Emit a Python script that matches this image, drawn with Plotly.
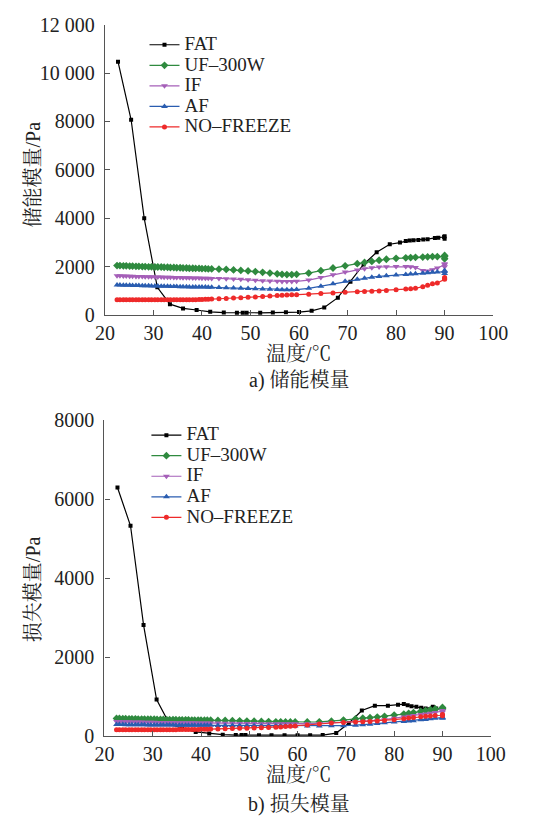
import plotly.graph_objects as go

# ---------------- data ----------------
FAT_T = [22.7, 25.4, 28.1, 30.8, 33.4, 36.1, 38.9, 41.7, 44.5, 47.2, 48.4, 49.2, 52.0, 54.6,
         57.3, 60.0, 62.6, 65.2, 68.0, 70.6, 73.3, 76.0, 78.7, 80.8, 82.0, 82.8, 83.6, 84.6,
         85.6, 86.5, 88.0, 88.7, 89.9, 90.0, 90.0]

T = [22.5, 23.1, 23.8, 24.4, 25.1, 25.7, 26.4, 27.0, 27.7, 28.3, 29.0, 29.6, 30.3, 30.9, 31.6,
     32.2, 32.9, 33.5, 34.2, 34.8, 35.5, 36.1, 36.8, 37.4, 38.1, 38.7, 39.4, 40.0, 40.7, 41.3,
     42.0, 43.5, 45.0, 46.5, 48.0, 49.5, 51.0, 52.5, 54.0, 55.5, 56.5, 57.5, 58.5, 59.5, 62.0,
     64.5, 67.0, 69.5, 72.0, 73.5, 75.0, 76.5, 78.0, 80.0, 82.0, 83.0, 84.0, 85.5, 86.5, 87.5,
     88.5, 90.0, 90.0, 90.0]

# storage modulus G' (Pa)
G1_FAT = [10470, 8070, 4000, 1150, 455, 280, 215, 140, 110, 100, 100, 100, 100, 110, 120, 130,
          180, 320, 725, 1380, 2095, 2600, 2930, 3000, 3060, 3090, 3100, 3110, 3130, 3140, 3190,
          3200, 3230, 3260, 3160]
G1_UF = [2050, 2050, 2040, 2040, 2030, 2030, 2020, 2020, 2010, 2010, 2000, 2000, 1990, 1990, 1990,
         1980, 1980, 1970, 1970, 1960, 1960, 1950, 1950, 1940, 1940, 1930, 1930, 1920, 1920, 1910,
         1910, 1900, 1890, 1870, 1850, 1830, 1800, 1770, 1740, 1710, 1690, 1680, 1680, 1690, 1740,
         1840, 1950, 2040, 2130, 2180, 2220, 2270, 2310, 2350, 2370, 2380, 2390, 2400, 2410, 2420,
         2420, 2420, 2330, 2470]
G1_IF = [1630, 1630, 1620, 1620, 1610, 1610, 1600, 1600, 1600, 1590, 1590, 1590, 1580, 1580, 1580,
         1570, 1570, 1570, 1560, 1560, 1560, 1550, 1550, 1550, 1540, 1540, 1540, 1530, 1530, 1530,
         1520, 1520, 1510, 1500, 1480, 1460, 1440, 1420, 1410, 1400, 1390, 1390, 1390, 1400, 1450,
         1560, 1670, 1780, 1870, 1920, 1960, 1990, 2000, 2010, 2010, 2000, 1970, 1850, 1830, 1880,
         1950, 2080, 2130, 2000]
G1_AF = [1250, 1250, 1240, 1240, 1240, 1230, 1230, 1230, 1220, 1220, 1220, 1210, 1210, 1210, 1200,
         1200, 1200, 1190, 1190, 1190, 1180, 1180, 1180, 1170, 1170, 1170, 1160, 1160, 1160, 1150,
         1150, 1140, 1130, 1120, 1110, 1100, 1090, 1080, 1070, 1060, 1050, 1050, 1050, 1060, 1110,
         1200, 1300, 1400, 1480, 1530, 1570, 1600, 1630, 1660, 1680, 1700, 1710, 1730, 1750, 1770,
         1780, 1800, 1720, 1850]
G1_NF = [640, 640, 640, 640, 640, 640, 640, 640, 640, 640, 640, 640, 640, 640, 640,
         640, 640, 640, 640, 640, 640, 640, 640, 640, 640, 640, 645, 650, 655, 660,
         665, 680, 695, 710, 725, 740, 755, 770, 790, 810, 820, 830, 840, 850, 870,
         895, 920, 950, 970, 980, 990, 1000, 1020, 1050, 1080, 1090, 1110, 1180, 1240, 1300,
         1330, 1480, 1560, 1530]

# loss modulus G'' (Pa)
G2_FAT = [6300, 5330, 2820, 930, 330, 190, 110, 70, 40, 30, 30, 30, 25, 25, 25, 25,
          25, 30, 80, 330, 650, 775, 775, 800, 815, 785, 760, 745, 720, 700, 745,
          700, 690, 680, 700]
G2_UF = [450, 450, 445, 445, 440, 440, 440, 435, 435, 435, 430, 430, 430, 425, 425,
         425, 420, 420, 420, 420, 415, 415, 415, 415, 410, 410, 410, 410, 405, 405,
         405, 400, 400, 395, 390, 385, 380, 375, 370, 365, 365, 360, 360, 360, 360,
         365, 380, 410, 440, 455, 470, 485, 505, 535, 560, 580, 600, 630, 650, 670,
         690, 710, 730, 690]
G2_IF = [370, 370, 368, 366, 364, 362, 360, 360, 358, 356, 355, 354, 352, 350, 350,
         348, 347, 346, 345, 344, 343, 342, 341, 340, 340, 339, 338, 337, 336, 335,
         335, 333, 330, 328, 325, 323, 320, 318, 316, 315, 314, 313, 313, 314, 318,
         325, 335, 350, 362, 370, 380, 395, 420, 455, 485, 505, 525, 550, 565, 585,
         600, 630, 650, 610]
G2_AF = [295, 295, 294, 293, 292, 291, 290, 290, 289, 288, 287, 287, 286, 285, 285,
         284, 283, 283, 282, 281, 281, 280, 280, 279, 279, 278, 278, 277, 277, 276,
         275, 274, 272, 270, 268, 266, 264, 262, 260, 259, 258, 258, 258, 258, 260,
         262, 265, 268, 280, 290, 305, 320, 340, 360, 375, 385, 395, 415, 425, 440,
         455, 470, 480, 455]
G2_NF = [165, 165, 165, 165, 165, 165, 165, 165, 165, 165, 165, 165, 165, 166, 166,
         166, 166, 167, 167, 167, 168, 168, 168, 169, 170, 171, 172, 174, 176, 178,
         180, 185, 190, 195, 200, 205, 210, 215, 220, 228, 235, 245, 255, 262, 285,
         310, 335, 350, 360, 365, 372, 385, 400, 420, 445, 460, 475, 495, 505, 515,
         525, 535, 550, 520]

NAMES = ["FAT", "UF\u2013300W", "IF", "AF", "NO\u2013FREEZE"]
X_TICKS = [20, 30, 40, 50, 60, 70, 80, 90, 100]
Y1_TICKS = [0, 2000, 4000, 6000, 8000, 10000, 12000]
Y1_TEXT = ["0", "2000", "4000", "6000", "8000", "10 000", "12 000"]
Y2_TICKS = [0, 2000, 4000, 6000, 8000]
Y2_TEXT = ["0", "2000", "4000", "6000", "8000"]

# ---------------- styles ----------------
COLORS = ["#000000", "#2f8a3f", "#a55fb8", "#2a5db0", "#ee2a2a"]
SYMBOLS = ["square", "diamond", "triangle-down", "triangle-up", "circle"]
SIZES = [4, 6, 6, 6, 5]
W, H = 542, 829
SERIF = "Liberation Serif, Times New Roman, serif"
CJK = "Liberation Serif, Noto Serif CJK SC, Noto Sans CJK SC, serif"
AX = "#555"


def legend_name(n):
    return '<span style="font-size:19px">' + n + '</span>'


fig = go.Figure()

top = [(FAT_T, G1_FAT), (T, G1_UF), (T, G1_IF), (T, G1_AF), (T, G1_NF)]
bot = [(FAT_T, G2_FAT), (T, G2_UF), (T, G2_IF), (T, G2_AF), (T, G2_NF)]

for panel, (data, xa, ya, lg) in enumerate([(top, "x", "y", "legend"), (bot, "x2", "y2", "legend2")]):
    for i, (xs, ys) in enumerate(data):
        fig.add_trace(go.Scatter(
            x=xs, y=ys, name=legend_name(NAMES[i]), mode="lines+markers",
            line=dict(color=COLORS[i], width=1.2),
            marker=dict(symbol=SYMBOLS[i], size=SIZES[i], color=COLORS[i]),
            xaxis=xa, yaxis=ya, legend=lg))


def py(p):
    return 1 - p / H


def px(p):
    return p / W


axis_common = dict(showline=True, linecolor=AX, linewidth=1.3, ticks="inside",
                   ticklen=5, tickcolor=AX, tickwidth=1.3, showgrid=False,
                   zeroline=False, tickfont=dict(family=SERIF, size=20, color="#222"))

fig.update_layout(
    width=W, height=H, margin=dict(l=0, r=0, t=0, b=0),
    paper_bgcolor="white", plot_bgcolor="white",
    font=dict(family=SERIF, color="#222"),
    xaxis=dict(domain=[px(99.5), px(506.5)], range=[20, 100], tickvals=X_TICKS, anchor="y",
               **axis_common),
    yaxis=dict(domain=[py(312.5), py(14)], range=[0, 12000], tickvals=Y1_TICKS,
               ticktext=Y1_TEXT, anchor="x", ticklabelstandoff=5, **axis_common),
    xaxis2=dict(domain=[px(99), px(504)], range=[20, 100], tickvals=X_TICKS, anchor="y2",
                **axis_common),
    yaxis2=dict(domain=[py(745), py(420.5)], range=[0, 8000], tickvals=Y2_TICKS,
                ticktext=Y2_TEXT, anchor="x2", ticklabelstandoff=5, **axis_common),
    legend=dict(x=px(141), y=py(19), xanchor="left", yanchor="top",
                bgcolor="rgba(0,0,0,0)", font=dict(family=SERIF, size=13.5, color="#222")),
    legend2=dict(x=px(143), y=py(420), xanchor="left", yanchor="top",
                 bgcolor="rgba(0,0,0,0)", font=dict(family=SERIF, size=13.5, color="#222")),
    showlegend=True,
)

cx = (100 + 506) / 2 / W
ann = [
    dict(text="温度/℃", x=cx, y=py(352)),
    dict(text="a) 储能模量", x=cx, y=py(380)),
    dict(text="储能模量/Pa", x=px(24), y=py(168), textangle=-90),
    dict(text="温度/℃", x=cx, y=py(785)),
    dict(text="b) 损失模量", x=cx, y=py(815)),
    dict(text="损失模量/Pa", x=px(24), y=py(594), textangle=-90),
]
for a in ann:
    fig.add_annotation(xref="paper", yref="paper", showarrow=False, xanchor="center",
                       yanchor="middle", font=dict(family=CJK, size=20, color="#222"), **a)

fig.write_html("out.html")
